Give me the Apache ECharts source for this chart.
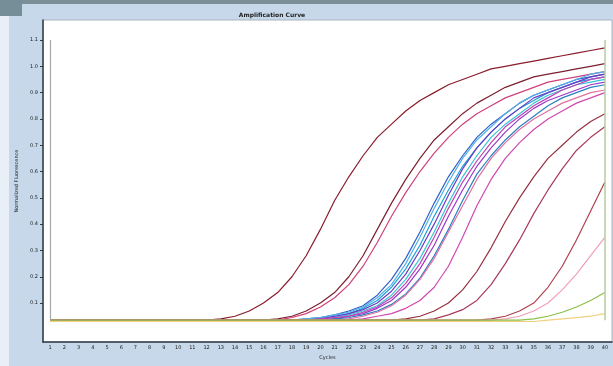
<!DOCTYPE html>
<html>
<head>
<meta charset="utf-8">
<script src="https://cdn.jsdelivr.net/npm/echarts@6/dist/echarts.min.js"></script>
<style>
  html, body { margin: 0; padding: 0; background: #fff; }
  #chart { width: 613px; height: 366px; }
</style>
</head>
<body>
<div id="chart"></div>
<script>
// cycles on the x axis
const cycles = ['1','2','3','4','5','6','7','8','9','10','11','12','13','14','15','16','17','18','19','20',
  '21','22','23','24','25','26','27','28','29','30','31','32','33','34','35','36','37','38','39','40'];

// y tick labels
const yLabels = [0.1, 0.2, 0.3, 0.4, 0.5, 0.6, 0.7, 0.8, 0.9, 1.0, 1.1];

// fluorescence readings per cycle, one array per well
const wellA = [0.035,0.035,0.035,0.035,0.035,0.035,0.035,0.035,0.035,0.035,0.035,0.035,0.04,0.05,0.07,0.10,0.14,0.20,0.28,0.38,
  0.49,0.58,0.66,0.73,0.78,0.83,0.87,0.90,0.93,0.95,0.97,0.99,1.00,1.01,1.02,1.03,1.04,1.05,1.06,1.07];
const wellB = [0.035,0.035,0.035,0.035,0.035,0.035,0.035,0.035,0.035,0.035,0.035,0.035,0.035,0.035,0.035,0.035,0.04,0.05,0.07,0.10,
  0.14,0.20,0.28,0.38,0.48,0.57,0.65,0.72,0.77,0.82,0.86,0.89,0.92,0.94,0.96,0.97,0.98,0.99,1.00,1.01];
const wellB2 = [0.035,0.035,0.035,0.035,0.035,0.035,0.035,0.035,0.035,0.035,0.035,0.035,0.035,0.035,0.035,0.035,0.035,0.045,0.06,0.085,
  0.12,0.17,0.24,0.33,0.43,0.52,0.60,0.67,0.73,0.78,0.82,0.85,0.88,0.90,0.92,0.94,0.95,0.96,0.97,0.98];
const band1 = [0.035,0.035,0.035,0.035,0.035,0.035,0.035,0.035,0.035,0.035,0.035,0.035,0.035,0.035,0.035,0.035,0.035,0.035,0.04,0.045,
  0.055,0.07,0.09,0.13,0.19,0.27,0.37,0.48,0.58,0.66,0.73,0.78,0.82,0.86,0.89,0.91,0.93,0.95,0.96,0.97];
const band2 = [0.035,0.035,0.035,0.035,0.035,0.035,0.035,0.035,0.035,0.035,0.035,0.035,0.035,0.035,0.035,0.035,0.035,0.035,0.035,0.04,
  0.05,0.06,0.08,0.11,0.16,0.23,0.32,0.43,0.53,0.62,0.69,0.75,0.80,0.84,0.87,0.90,0.92,0.94,0.95,0.96];
const band3 = [0.035,0.035,0.035,0.035,0.035,0.035,0.035,0.035,0.035,0.035,0.035,0.035,0.035,0.035,0.035,0.035,0.035,0.035,0.035,0.04,
  0.045,0.055,0.07,0.09,0.13,0.19,0.27,0.37,0.48,0.58,0.66,0.73,0.78,0.82,0.86,0.89,0.91,0.93,0.94,0.95];
const band4 = [0.035,0.035,0.035,0.035,0.035,0.035,0.035,0.035,0.035,0.035,0.035,0.035,0.035,0.035,0.035,0.035,0.035,0.035,0.035,0.04,
  0.05,0.06,0.075,0.10,0.145,0.21,0.30,0.40,0.51,0.61,0.69,0.75,0.80,0.84,0.88,0.90,0.92,0.94,0.96,0.97];
const band5 = [0.035,0.035,0.035,0.035,0.035,0.035,0.035,0.035,0.035,0.035,0.035,0.035,0.035,0.035,0.035,0.035,0.035,0.035,0.035,0.035,
  0.04,0.05,0.06,0.08,0.11,0.16,0.23,0.32,0.43,0.53,0.62,0.69,0.75,0.80,0.84,0.87,0.89,0.91,0.93,0.94];
const band6 = [0.035,0.035,0.035,0.035,0.035,0.035,0.035,0.035,0.035,0.035,0.035,0.035,0.035,0.035,0.035,0.035,0.035,0.035,0.035,0.035,
  0.04,0.045,0.055,0.07,0.095,0.135,0.195,0.28,0.38,0.49,0.59,0.66,0.72,0.77,0.81,0.85,0.88,0.90,0.92,0.93];
const band7 = [0.035,0.035,0.035,0.035,0.035,0.035,0.035,0.035,0.035,0.035,0.035,0.035,0.035,0.035,0.035,0.035,0.035,0.035,0.04,0.045,
  0.055,0.065,0.085,0.12,0.17,0.25,0.35,0.46,0.56,0.65,0.72,0.77,0.82,0.86,0.89,0.91,0.93,0.95,0.97,0.98];
const band8 = [0.035,0.035,0.035,0.035,0.035,0.035,0.035,0.035,0.035,0.035,0.035,0.035,0.035,0.035,0.035,0.035,0.035,0.035,0.035,0.04,
  0.045,0.05,0.065,0.085,0.12,0.175,0.25,0.35,0.46,0.56,0.64,0.71,0.77,0.81,0.85,0.88,0.91,0.93,0.95,0.96];
const wellD = [0.035,0.035,0.035,0.035,0.035,0.035,0.035,0.035,0.035,0.035,0.035,0.035,0.035,0.035,0.035,0.035,0.035,0.035,0.035,0.035,
  0.035,0.035,0.04,0.05,0.06,0.08,0.11,0.16,0.24,0.35,0.47,0.57,0.65,0.71,0.76,0.80,0.83,0.86,0.88,0.90];
const wellD2 = [0.035,0.035,0.035,0.035,0.035,0.035,0.035,0.035,0.035,0.035,0.035,0.035,0.035,0.035,0.035,0.035,0.035,0.035,0.035,0.035,
  0.035,0.04,0.05,0.065,0.09,0.13,0.19,0.27,0.37,0.47,0.57,0.65,0.71,0.76,0.80,0.83,0.86,0.88,0.90,0.91];
const wellE = [0.035,0.035,0.035,0.035,0.035,0.035,0.035,0.035,0.035,0.035,0.035,0.035,0.035,0.035,0.035,0.035,0.035,0.035,0.035,0.035,
  0.035,0.035,0.035,0.035,0.035,0.04,0.05,0.07,0.10,0.15,0.22,0.31,0.41,0.50,0.58,0.65,0.70,0.75,0.79,0.82];
const wellF = [0.035,0.035,0.035,0.035,0.035,0.035,0.035,0.035,0.035,0.035,0.035,0.035,0.035,0.035,0.035,0.035,0.035,0.035,0.035,0.035,
  0.035,0.035,0.035,0.035,0.035,0.035,0.035,0.04,0.055,0.075,0.11,0.17,0.25,0.34,0.44,0.53,0.61,0.68,0.73,0.77];
const wellG = [0.035,0.035,0.035,0.035,0.035,0.035,0.035,0.035,0.035,0.035,0.035,0.035,0.035,0.035,0.035,0.035,0.035,0.035,0.035,0.035,
  0.035,0.035,0.035,0.035,0.035,0.035,0.035,0.035,0.035,0.035,0.035,0.04,0.05,0.07,0.10,0.16,0.24,0.34,0.45,0.56];
const wellH = [0.035,0.035,0.035,0.035,0.035,0.035,0.035,0.035,0.035,0.035,0.035,0.035,0.035,0.035,0.035,0.035,0.035,0.035,0.035,0.035,
  0.035,0.035,0.035,0.035,0.035,0.035,0.035,0.035,0.035,0.035,0.035,0.035,0.04,0.05,0.07,0.10,0.15,0.21,0.28,0.35];
const wellI = [0.035,0.035,0.035,0.035,0.035,0.035,0.035,0.035,0.035,0.035,0.035,0.035,0.035,0.035,0.035,0.035,0.035,0.035,0.035,0.035,
  0.035,0.035,0.035,0.035,0.035,0.035,0.035,0.035,0.035,0.035,0.035,0.035,0.035,0.035,0.04,0.05,0.065,0.085,0.11,0.14];
const wellJ = [0.03,0.03,0.03,0.03,0.03,0.03,0.03,0.03,0.03,0.03,0.03,0.03,0.03,0.03,0.03,0.03,0.03,0.03,0.03,0.03,
  0.03,0.03,0.03,0.03,0.03,0.03,0.03,0.03,0.03,0.03,0.03,0.03,0.03,0.03,0.03,0.035,0.04,0.045,0.05,0.06];

const wells = [
  { name: 'A', data: wellA, color: '#8a1c2c' },
  { name: 'B', data: wellB, color: '#7c2030' },
  { name: 'B2', data: wellB2, color: '#d0407a' },
  { name: 'band1', data: band1, color: '#2f5fc8' },
  { name: 'band2', data: band2, color: '#1fa0d8' },
  { name: 'band3', data: band3, color: '#38c4d4' },
  { name: 'band4', data: band4, color: '#6a3cc8' },
  { name: 'band5', data: band5, color: '#9c38c8' },
  { name: 'band6', data: band6, color: '#2a80c0' },
  { name: 'band7', data: band7, color: '#50b0e8' },
  { name: 'band8', data: band8, color: '#c040b8' },
  { name: 'D', data: wellD, color: '#d048b0' },
  { name: 'D2', data: wellD2, color: '#e070a0' },
  { name: 'E', data: wellE, color: '#963040' },
  { name: 'F', data: wellF, color: '#a83a58' },
  { name: 'G', data: wellG, color: '#b04050' },
  { name: 'H', data: wellH, color: '#f0a0b8' },
  { name: 'I', data: wellI, color: '#88c048' },
  { name: 'J', data: wellJ, color: '#f0d080' }
];

// guide lines drawn in the plot (cycle, value)
const leftGuide = [['1', 1.1], ['1', 0.035]];
const rightGuide = [['40', 1.1], ['40', 0.035]];

const chart = echarts.init(document.getElementById('chart'));

const series = wells.map(w => ({
  name: w.name,
  type: 'line',
  data: w.data,
  symbol: 'none',
  smooth: false,
  lineStyle: { color: w.color, width: 1.2 },
  itemStyle: { color: w.color }
}));

series.push({
  name: 'guides',
  type: 'line',
  data: [],
  markLine: {
    silent: true,
    symbol: 'none',
    label: { show: false },
    data: [
      [{ coord: leftGuide[0], lineStyle: { color: '#a8a8a8', width: 1.2, type: 'solid' } }, { coord: leftGuide[1] }],
      [{ coord: rightGuide[0], lineStyle: { color: '#b4cc9c', width: 1.5, type: 'solid' } }, { coord: rightGuide[1] }]
    ]
  }
});

chart.setOption({
  backgroundColor: '#c6d8ea',
  animation: false,
  title: {
    text: 'Amplification Curve',
    left: 267,
    top: 7,
    textAlign: 'center',
    textStyle: { fontSize: 6, fontWeight: 'bold', color: '#222', fontFamily: 'DejaVu Sans' }
  },
  graphic: [
    { type: 'rect', shape: { x: 0, y: 0, width: 613, height: 4 }, style: { fill: '#7c8f99' } },
    { type: 'rect', shape: { x: 0, y: 0, width: 22, height: 16 }, style: { fill: '#768e98' } },
    { type: 'rect', shape: { x: 0, y: 16, width: 9, height: 350 }, style: { fill: '#e8eff6' } }
  ],
  grid: {
    left: 43,
    right: 1,
    top: 20,
    bottom: 24,
    show: true,
    backgroundColor: '#ffffff',
    borderColor: '#aab4bc',
    borderWidth: 1
  },
  xAxis: {
    type: 'category',
    data: cycles,
    boundaryGap: true,
    name: 'Cycles',
    nameLocation: 'middle',
    nameGap: 12,
    nameTextStyle: { fontSize: 5, color: '#222', fontFamily: 'DejaVu Sans' },
    axisLine: { onZero: false, lineStyle: { color: '#2c3a46', width: 1.5 } },
    axisTick: { alignWithLabel: true, length: 3, lineStyle: { color: '#2c3a46' } },
    axisLabel: { interval: 0, fontSize: 5, margin: 3, color: '#222', fontFamily: 'DejaVu Sans' },
    splitLine: { show: false }
  },
  yAxis: {
    type: 'value',
    min: -0.048,
    max: 1.176,
    name: 'Normalized Fluorescence',
    nameLocation: 'middle',
    nameGap: 23,
    nameTextStyle: { fontSize: 5, color: '#222', fontFamily: 'DejaVu Sans' },
    axisLine: { show: true, onZero: false, lineStyle: { color: '#2c3a46', width: 1.5 } },
    axisTick: { show: true, length: 3, customValues: yLabels, lineStyle: { color: '#2c3a46' } },
    axisLabel: {
      fontSize: 5,
      margin: 5,
      color: '#222',
      fontFamily: 'DejaVu Sans',
      customValues: yLabels,
      formatter: v => v.toFixed(1)
    },
    splitLine: { show: false }
  },
  series: series
});
</script>
</body>
</html>
